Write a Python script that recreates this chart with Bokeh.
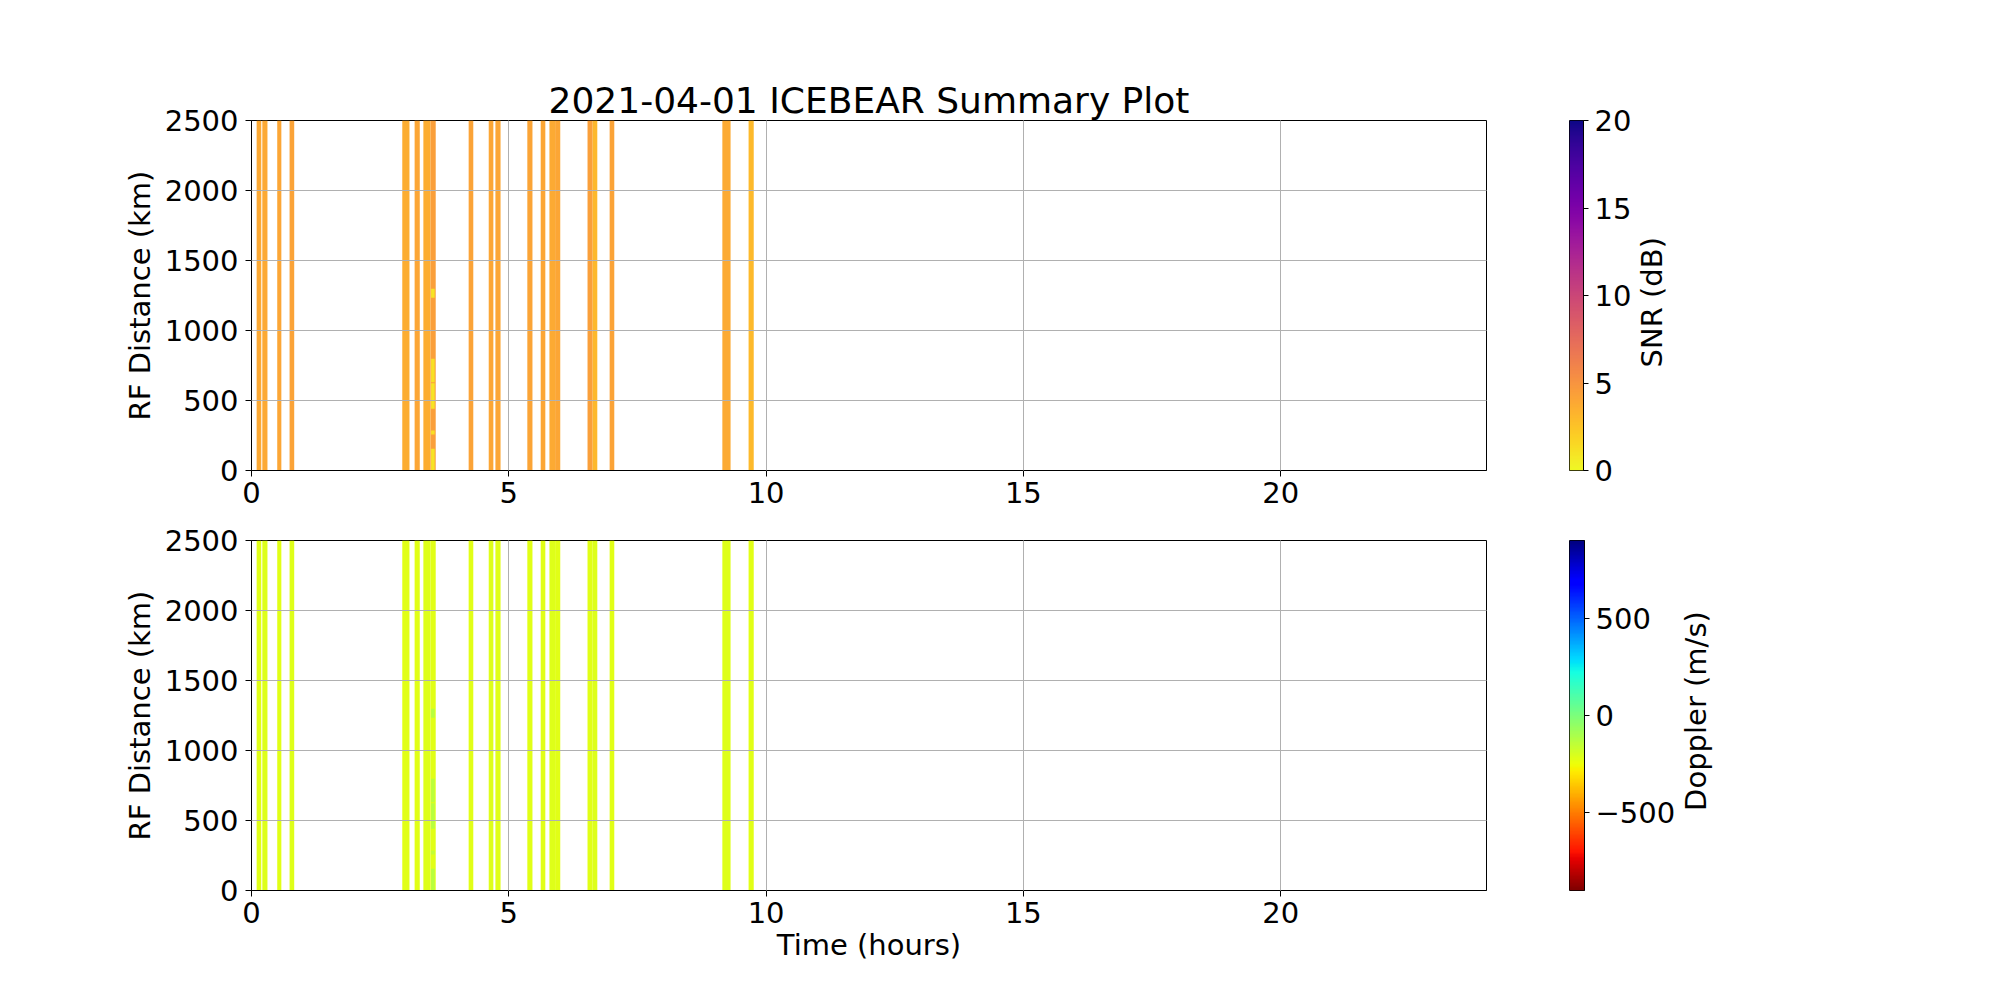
import numpy as np
from bokeh.plotting import figure
from bokeh.models import (LinearColorMapper, FixedTicker, Range1d,
                          ColumnDataSource)
from bokeh.layouts import column, row
from bokeh.palettes import Plasma256
from bokeh.transform import transform
from bokeh.embed import file_html
from bokeh.resources import INLINE
from bokeh.core.properties import value

# ---------------- data ----------------
title_text = "2021-04-01 ICEBEAR Summary Plot"

# observation bars: start / end time in hours
bar_start = [0.10, 0.21, 0.50, 0.74, 2.93, 3.17, 3.34, 3.48, 4.22, 4.61,
             4.74, 5.36, 5.62, 5.79, 5.90, 6.53, 6.63, 6.96, 9.15, 9.66]
bar_end = [0.19, 0.31, 0.58, 0.83, 3.07, 3.27, 3.48, 3.58, 4.31, 4.70,
           4.84, 5.46, 5.71, 5.90, 6.00, 6.63, 6.72, 7.05, 9.31, 9.76]
bar_snr = [3.9, 3.9, 4.0, 4.2, 3.6, 4.0, 3.6, 4.4, 4.2, 4.0,
           4.0, 4.1, 4.0, 3.8, 4.0, 4.4, 3.1, 4.2, 3.8, 3.0]
bar_doppler = [-220, -215, -220, -215, -225, -220, -215, -220, -220, -215,
               -220, -220, -220, -215, -220, -225, -215, -220, -215, -220]

# small patches of different values inside the 3.5 h bar
spot_start = [3.49, 3.49, 3.49, 3.49, 3.49]
spot_end = [3.56, 3.56, 3.56, 3.56, 3.56]
spot_low = [1234, 631, 441, 257, 0]
spot_high = [1298, 798, 624, 286, 155]
spot_snr = [1.0, 1.1, 1.0, 1.2, 1.0]
spot_doppler = [-130, -140, -130, -150, -130]

range_min = 0
range_max = 2500
time_min = 0
time_max = 24

x_ticks = [0, 5, 10, 15, 20]
y_ticks = [0, 500, 1000, 1500, 2000, 2500]
snr_low, snr_high = 0, 20
snr_ticks = [0, 5, 10, 15, 20]
dop_low, dop_high = -900, 900
dop_ticks = [-500, 0, 500]

# ---------------- colormaps ----------------
def jet(v):
    r = np.interp(v, [0, 0.35, 0.66, 0.89, 1], [0, 0, 1, 1, 0.5])
    g = np.interp(v, [0, 0.125, 0.375, 0.64, 0.91, 1], [0, 0, 1, 1, 0, 0])
    b = np.interp(v, [0, 0.11, 0.34, 0.65, 1], [0.5, 1, 1, 0, 0])
    return "#%02x%02x%02x" % (int(round(r * 255)), int(round(g * 255)), int(round(b * 255)))

jet_r = [jet(1 - i / 255.0) for i in range(256)]
plasma_r = list(reversed(Plasma256))

snr_mapper = LinearColorMapper(palette=plasma_r, low=snr_low, high=snr_high)
dop_mapper = LinearColorMapper(palette=jet_r, low=dop_low, high=dop_high)

FONT = "DejaVu Sans"
TICK_FS = "29px"
LABEL_FS = "29px"

bars = ColumnDataSource(dict(start=bar_start, end=bar_end, snr=bar_snr,
                             dop=bar_doppler,
                             lo=[range_min] * len(bar_start),
                             hi=[range_max] * len(bar_start)))
spots = ColumnDataSource(dict(start=spot_start, end=spot_end, lo=spot_low,
                              hi=spot_high, snr=spot_snr, dop=spot_doppler))


def style_axis(ax, standoff):
    ax.major_label_text_font = FONT
    ax.major_label_text_font_size = TICK_FS
    ax.major_label_text_color = "black"
    ax.major_tick_out = 6
    ax.major_tick_in = 0
    ax.minor_tick_out = 0
    ax.minor_tick_in = 0
    ax.major_tick_line_color = "black"
    ax.major_tick_line_width = 1
    ax.axis_line_color = "black"
    ax.axis_line_width = 1
    ax.major_label_standoff = standoff
    ax.axis_label_text_font = FONT
    ax.axis_label_text_font_size = LABEL_FS
    ax.axis_label_text_font_style = "normal"
    ax.axis_label_text_color = "black"


def main_fig(height, top, bottom, title, color_field, mapper, xlabel):
    kw = dict(width=1500, height=height,
              x_range=Range1d(time_min, time_max),
              y_range=Range1d(range_min, range_max),
              output_backend="svg", toolbar_location=None,
              min_border_left=251, min_border_right=14,
              min_border_top=top, min_border_bottom=bottom)
    if title:
        kw["title"] = title
    p = figure(**kw)
    if title:
        p.title.text_font = FONT
        p.title.text_font_size = "36px"
        p.title.text_font_style = "normal"
        p.title.text_color = "black"
        p.title.align = "center"
        p.title.standoff = 0
    p.quad(left="start", right="end", bottom="lo", top="hi", source=bars,
           fill_color=transform(color_field, mapper), line_color=None)
    p.quad(left="start", right="end", bottom="lo", top="hi", source=spots,
           fill_color=transform(color_field, mapper), line_color=None)
    p.xaxis.ticker = FixedTicker(ticks=x_ticks)
    p.yaxis.ticker = FixedTicker(ticks=y_ticks)
    style_axis(p.xaxis[0], 5)
    style_axis(p.yaxis[0], 7)
    p.yaxis.axis_label = "RF Distance (km)"
    p.yaxis.axis_label_standoff = 5
    if xlabel:
        p.xaxis.axis_label = xlabel
        p.xaxis.axis_label_standoff = 2
    p.xgrid.ticker = FixedTicker(ticks=x_ticks[1:])
    p.ygrid.ticker = FixedTicker(ticks=y_ticks[1:-1])
    for g in (p.xgrid[0], p.ygrid[0]):
        g.grid_line_color = "#b0b0b0"
        g.grid_line_width = 1
        g.level = "guide"
    p.outline_line_color = "black"
    p.outline_line_width = 1
    p.outline_line_alpha = 1
    p.background_fill_color = "white"
    p.border_fill_color = "white"
    return p


def cbar_fig(height, top, bottom, right, mapper, low, high, ticks):
    c = figure(width=69 + 17 + right, height=height,
               x_range=Range1d(0, 17), y_range=Range1d(low, high),
               output_backend="svg", toolbar_location=None,
               min_border_left=69, min_border_right=right,
               min_border_top=top, min_border_bottom=bottom,
               x_axis_location=None, y_axis_location="right")
    grad = np.linspace(low, high, 256).reshape(256, 1)
    c.image(image=[grad], x=0, y=low, dw=17, dh=high - low, color_mapper=mapper)
    c.grid.visible = False
    c.yaxis.ticker = FixedTicker(ticks=ticks)
    c.yaxis.major_label_overrides = {t: (("\u2212" + str(-t)) if t < 0 else str(t)) for t in ticks}
    style_axis(c.yaxis[0], 6)
    c.yaxis.major_tick_out = 5
    c.outline_line_color = "black"
    c.outline_line_width = 1
    c.outline_line_alpha = 1
    c.border_fill_color = "white"
    return c


def label_fig(width, height, cx, cy_from_top, text):
    l = figure(width=width, height=height,
               x_range=Range1d(0, width), y_range=Range1d(0, height),
               output_backend="svg", toolbar_location=None,
               min_border=0, min_border_left=0, min_border_right=0,
               min_border_top=0, min_border_bottom=0,
               x_axis_location=None, y_axis_location=None)
    l.grid.visible = False
    l.outline_line_color = None
    l.text(x=[cx], y=[height - cy_from_top], text=[text], angle=np.pi / 2,
           text_align="center", text_baseline="middle",
           text_font=value(FONT), text_font_size=value(LABEL_FS),
           text_color="black")
    return l


p1 = main_fig(520, 120, 50, title_text, "snr", snr_mapper, None)
p2 = main_fig(470, 20, 100, None, "dop", dop_mapper, "Time (hours)")
c1 = cbar_fig(520, 120, 50, 48, snr_mapper, snr_low, snr_high, snr_ticks)
c2 = cbar_fig(470, 20, 100, 92, dop_mapper, dop_low, dop_high, dop_ticks)
l1 = label_fig(40, 520, 17.5, 270, "SNR (dB)")
l2 = label_fig(40, 470, 17.5, 229, "Doppler (m/s)")

layout = column(row(p1, c1, l1), row(p2, c2, l2))

open("out.html", "w").write(file_html(layout, INLINE))
